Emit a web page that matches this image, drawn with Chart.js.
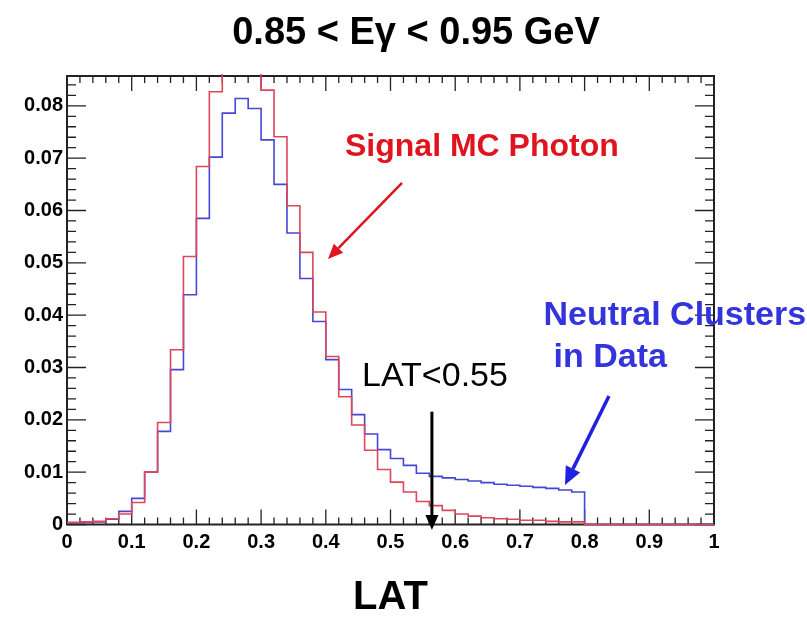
<!DOCTYPE html>
<html>
<head>
<meta charset="utf-8">
<script src="https://cdn.jsdelivr.net/npm/chart.js@4"></script>
<style>
  html, body { margin: 0; padding: 0; background: #fff; }
  canvas { display: block; }
</style>
</head>
<body>
<canvas id="latChart" width="807" height="622"></canvas>
<script>
// left edges of the LAT bins (width 0.02)
const binEdges = [
  0.00, 0.02, 0.04, 0.06, 0.08, 0.10, 0.12, 0.14, 0.16, 0.18,
  0.20, 0.22, 0.24, 0.26, 0.28, 0.30, 0.32, 0.34, 0.36, 0.38,
  0.40, 0.42, 0.44, 0.46, 0.48, 0.50, 0.52, 0.54, 0.56, 0.58,
  0.60, 0.62, 0.64, 0.66, 0.68, 0.70, 0.72, 0.74, 0.76, 0.78,
  0.80, 0.82, 0.84, 0.86, 0.88, 0.90, 0.92, 0.94, 0.96, 0.98
];
const lastEdge = 1.0;

// Signal MC photon (red)
const signalMC = [
  0.0004, 0.0005, 0.0006, 0.0011, 0.0020, 0.0042, 0.0100, 0.0195, 0.0334, 0.0512,
  0.0684, 0.0827, 0.0885, 0.0910, 0.0890, 0.0830, 0.0741, 0.0609, 0.0520, 0.0406,
  0.0321, 0.0244, 0.0190, 0.0142, 0.0105, 0.0081, 0.0062, 0.0044, 0.0036, 0.0027,
  0.0020, 0.0016, 0.0013, 0.0011, 0.0010, 0.0008, 0.0008, 0.0006, 0.0005, 0.0005,
  0, 0, 0, 0, 0, 0, 0, 0, 0, 0
];

// Neutral clusters in data (blue)
const neutralData = [
  0.0003, 0.0004, 0.0005, 0.0010, 0.0025, 0.0050, 0.0100, 0.0178, 0.0296, 0.0439,
  0.0585, 0.0702, 0.0786, 0.0814, 0.0795, 0.0735, 0.0650, 0.0557, 0.0470, 0.0388,
  0.0315, 0.0258, 0.0210, 0.0173, 0.0143, 0.0126, 0.0113, 0.0098, 0.0092, 0.0089,
  0.0086, 0.0083, 0.0080, 0.0077, 0.0075, 0.0073, 0.0071, 0.0069, 0.0066, 0.0062,
  0, 0, 0, 0, 0, 0, 0, 0, 0, 0
];

const xRange = [0, 1];
const yRange = [0, 0.0857];
const latCut = 0.564;

function toPoints(values) {
  const pts = binEdges.map((x, i) => ({ x: x, y: values[i] }));
  pts.push({ x: lastEdge, y: 0 });
  return pts;
}

// frame and inner ticks like a ROOT canvas
const rootFrame = {
  id: "rootFrame",
  beforeDatasetsDraw(chart) {
    const { ctx, chartArea: a, scales: { x, y } } = chart;
    ctx.save();
    ctx.strokeStyle = "#222";
    ctx.lineWidth = 1.3;
    ctx.beginPath();
    for (let i = 0; i <= 50; i++) {
      const px = x.getPixelForValue(i * 0.02);
      const len = i % 5 === 0 ? 15 : 7;
      ctx.moveTo(px, a.bottom); ctx.lineTo(px, a.bottom - len);
      ctx.moveTo(px, a.top); ctx.lineTo(px, a.top + len);
    }
    for (let i = 0; i * 0.002 <= yRange[1]; i++) {
      const py = y.getPixelForValue(i * 0.002);
      const len = i % 5 === 0 ? 19 : 9;
      ctx.moveTo(a.left, py); ctx.lineTo(a.left + len, py);
      ctx.moveTo(a.right, py); ctx.lineTo(a.right - len, py);
    }
    ctx.stroke();
    ctx.lineWidth = 2;
    ctx.strokeRect(a.left, a.top, a.right - a.left, a.bottom - a.top);
    ctx.restore();
  }
};

function drawArrow(ctx, x1, y1, x2, y2, color, width, headLen, headW) {
  const ang = Math.atan2(y2 - y1, x2 - x1);
  const bx = x2 - headLen * Math.cos(ang);
  const by = y2 - headLen * Math.sin(ang);
  ctx.save();
  ctx.strokeStyle = color;
  ctx.fillStyle = color;
  ctx.lineWidth = width;
  ctx.beginPath();
  ctx.moveTo(x1, y1);
  ctx.lineTo(bx, by);
  ctx.stroke();
  ctx.beginPath();
  ctx.moveTo(x2, y2);
  ctx.lineTo(bx + headW / 2 * Math.sin(ang), by - headW / 2 * Math.cos(ang));
  ctx.lineTo(bx - headW / 2 * Math.sin(ang), by + headW / 2 * Math.cos(ang));
  ctx.closePath();
  ctx.fill();
  ctx.restore();
}

const annotations = {
  id: "annotations",
  afterDraw(chart) {
    const { ctx, scales: { x, y } } = chart;
    const X = v => x.getPixelForValue(v);
    const Y = v => y.getPixelForValue(v);
    ctx.save();
    ctx.textBaseline = "alphabetic";

    ctx.fillStyle = "#000";
    ctx.textAlign = "center";
    ctx.font = "bold 38px 'Liberation Sans', Arial, sans-serif";
    ctx.fillText("0.85 < E\u03b3 < 0.95 GeV", 416, 44);

    ctx.textAlign = "left";
    ctx.fillStyle = "#e0141e";
    ctx.font = "bold 32px 'Liberation Sans', Arial, sans-serif";
    ctx.fillText("Signal MC Photon", X(0.4297), Y(0.0704));

    ctx.fillStyle = "#000";
    ctx.font = "34px 'Liberation Sans', Arial, sans-serif";
    ctx.fillText("LAT<0.55", X(0.456), Y(0.02647));

    ctx.fillStyle = "#3434dc";
    ctx.font = "bold 34px 'Liberation Sans', Arial, sans-serif";
    ctx.fillText("Neutral Clusters", X(0.7365), Y(0.03812));
    ctx.fillText("in Data", X(0.752), Y(0.03015));
    ctx.restore();

    drawArrow(ctx, X(0.5178), Y(0.06526), X(0.4034), Y(0.05074), "#e0141e", 2.5, 15, 13);
    drawArrow(ctx, X(0.8377), Y(0.02456), X(0.7697), Y(0.00755), "#2020e0", 3.5, 18, 16);
    drawArrow(ctx, X(latCut), Y(0.02156), X(latCut), Y(-0.00105), "#000", 3, 15, 13);
  }
};

new Chart(document.getElementById("latChart"), {
  type: "line",
  data: {
    datasets: [
      {
        label: "Signal MC Photon",
        data: toPoints(signalMC),
        borderColor: "rgb(222, 70, 90)",
        borderWidth: 1.6,
        stepped: true,
        pointRadius: 0,
        fill: false,
        clip: 2
      },
      {
        label: "Neutral Clusters in Data",
        data: toPoints(neutralData),
        borderColor: "rgb(70, 70, 215)",
        borderWidth: 1.6,
        stepped: true,
        pointRadius: 0,
        fill: false,
        clip: 2
      }
    ]
  },
  options: {
    responsive: false,
    animation: false,
    events: [],
    layout: { padding: { top: 76, right: 93, left: 0, bottom: 0 } },
    plugins: {
      legend: { display: false },
      tooltip: { enabled: false },
      title: { display: false }
    },
    scales: {
      x: {
        type: "linear",
        min: xRange[0],
        max: xRange[1],
        afterFit: s => { s.height = 97.5; },
        grid: { display: false, drawTicks: false },
        border: { display: false },
        ticks: {
          stepSize: 0.1,
          padding: 6,
          color: "#000",
          maxRotation: 0,
          font: { family: "'Liberation Sans', Arial, sans-serif", size: 20, weight: "bold" },
          callback: v => Math.abs(v) < 1e-9 ? "0" : Math.abs(v - 1) < 1e-9 ? "1" : v.toFixed(1)
        },
        title: {
          display: true,
          text: "LAT",
          color: "#000",
          padding: { top: 0, bottom: 0 },
          font: { family: "'Liberation Sans', Arial, sans-serif", size: 40, weight: "bold", lineHeight: 1.2 }
        }
      },
      y: {
        min: yRange[0],
        max: yRange[1],
        afterFit: s => { s.width = 67; },
        grid: { display: false, drawTicks: false },
        border: { display: false },
        ticks: {
          stepSize: 0.01,
          includeBounds: false,
          padding: 4,
          color: "#000",
          font: { family: "'Liberation Sans', Arial, sans-serif", size: 20, weight: "bold" },
          callback: v => Math.abs(v) < 1e-9 ? "0" : v.toFixed(2)
        }
      }
    }
  },
  plugins: [rootFrame, annotations]
});
</script>
</body>
</html>
